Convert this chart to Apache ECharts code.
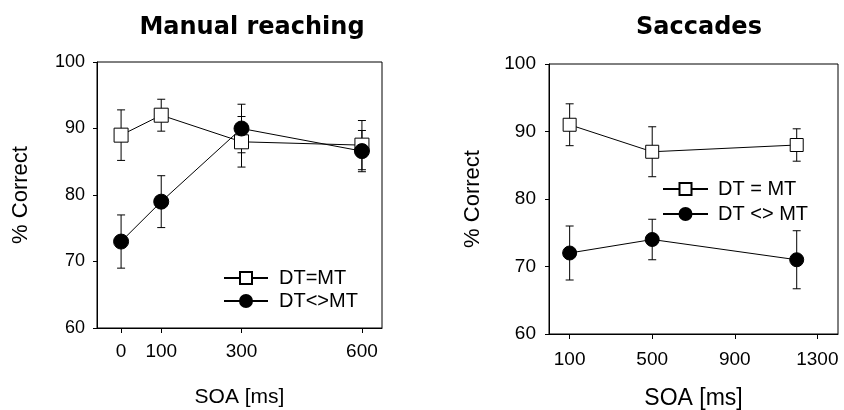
<!DOCTYPE html>
<html>
<head>
<meta charset="utf-8">
<script src="https://cdn.jsdelivr.net/npm/echarts@6/dist/echarts.min.js"></script>
<style>
  html, body { margin: 0; padding: 0; background: #fff; }
  #chart { width: 844px; height: 410px; }
</style>
</head>
<body>
<div id="chart"></div>
<script>
// manual reaching panel
const reachSoa = [0, 100, 300, 600];
const reachSame = [89, 92, 88, 87.5];
const reachSameErr = [3.8, 2.4, 3.8, 3.7];
const reachDiff = [73, 79, 90, 86.6];
const reachDiffErr = [4, 3.9, 3.65, 3.1];
const reachTicks = [0, 100, 300, 600];

// saccades panel
const saccSoa = [100, 500, 1200];
const saccSame = [91, 87, 88];
const saccSameErr = [3.1, 3.7, 2.4];
const saccDiff = [72, 74, 71];
const saccDiffErr = [4, 3, 4.3];
const saccTicks = [100, 500, 900, 1300];

const font = "Liberation Sans, Arial, sans-serif";

// pairs x with y
function pts(xs, ys) {
  return xs.map((x, i) => [x, ys[i]]);
}
function errs(xs, ys, e) {
  return xs.map((x, i) => [x, ys[i] - e[i], ys[i] + e[i]]);
}

// vertical error bar with caps
function errorBar(params, api) {
  const x = api.value(0);
  const lo = api.coord([x, api.value(1)]);
  const hi = api.coord([x, api.value(2)]);
  const w = 4;
  const st = { stroke: "#000", lineWidth: 1 };
  return {
    type: "group",
    children: [
      { type: "line", shape: { x1: lo[0], y1: lo[1], x2: hi[0], y2: hi[1] }, style: st },
      { type: "line", shape: { x1: hi[0] - w, y1: hi[1], x2: hi[0] + w, y2: hi[1] }, style: st },
      { type: "line", shape: { x1: lo[0] - w, y1: lo[1], x2: lo[0] + w, y2: lo[1] }, style: st }
    ]
  };
}

function xAxis(idx, min, max, ticks, gap, margin, nameSize) {
  return {
    type: "value", gridIndex: idx, min: min, max: max,
    name: "SOA [ms]", nameLocation: "middle", nameGap: gap,
    nameTextStyle: { color: "#000", fontSize: nameSize, fontFamily: font },
    axisLine: { onZero: false, lineStyle: { color: "#000", width: 1 } },
    axisTick: { show: true, length: 5, lineStyle: { color: "#000" }, customValues: ticks },
    axisLabel: { color: "#000", fontSize: 19, fontFamily: font, margin: margin,
      customValues: ticks, formatter: (v) => String(v) },
    splitLine: { show: false }
  };
}
function yAxis(idx, margin, size) {
  return {
    type: "value", gridIndex: idx, min: 60, max: 100, interval: 10,
    name: "% Correct", nameLocation: "middle", nameGap: 65,
    nameTextStyle: { color: "#000", fontSize: 22, fontFamily: font },
    axisLine: { onZero: false, lineStyle: { color: "#000", width: 1 } },
    axisTick: { show: true, length: 4, lineStyle: { color: "#000" } },
    axisLabel: { color: "#000", fontSize: size, fontFamily: font, margin: margin },
    splitLine: { show: false }
  };
}

function lineSeries(name, idx, data, symbol, size, fill) {
  return {
    name: name, type: "line", xAxisIndex: idx, yAxisIndex: idx,
    data: data, symbol: symbol, symbolSize: size, z: 5,
    lineStyle: { color: "#000", width: 1 },
    itemStyle: { color: fill, borderColor: "#000", borderWidth: 1 }
  };
}
function barSeries(idx, data) {
  return {
    type: "custom", xAxisIndex: idx, yAxisIndex: idx, z: 2,
    renderItem: errorBar, data: data
  };
}

const titleFont = { color: "#000", fontSize: 24, fontWeight: "bold", fontFamily: "DejaVu Sans" };

const chart = echarts.init(document.getElementById("chart"));
chart.setOption({
  animation: false,
  backgroundColor: "#fff",
  title: [
    { text: "Manual reaching", left: 247, top: 11, textAlign: "center", textStyle: titleFont },
    { text: "Saccades", left: 694, top: 11, textAlign: "center", textStyle: titleFont }
  ],
  grid: [
    { left: 97, top: 62, width: 285, height: 266, show: true, borderColor: "#000", borderWidth: 1,
      outerBoundsMode: "none" },
    { left: 549, top: 64, width: 289, height: 270, show: true, borderColor: "#000", borderWidth: 1,
      outerBoundsMode: "none" }
  ],
  xAxis: [xAxis(0, -60, 650, reachTicks, 59, 14, 21), xAxis(1, 0, 1400, saccTicks, 53, 16, 23)],
  yAxis: [yAxis(0, 12, 18), yAxis(1, 13, 19)],
  legend: [
    { orient: "vertical", left: 218, top: 263, itemWidth: 44, itemHeight: 15, itemGap: 3,
      data: ["DT=MT", "DT<>MT"],
      textStyle: { color: "#000", fontSize: 20, fontFamily: font, padding: [0, 0, 0, 6] } },
    { orient: "vertical", left: 657, top: 174, itemWidth: 45, itemHeight: 15, itemGap: 5,
      data: ["DT = MT", "DT <> MT"],
      textStyle: { color: "#000", fontSize: 20, fontFamily: font, padding: [0, 0, 0, 5] } }
  ],
  series: [
    barSeries(0, errs(reachSoa, reachSame, reachSameErr)),
    barSeries(0, errs(reachSoa, reachDiff, reachDiffErr)),
    lineSeries("DT=MT", 0, pts(reachSoa, reachSame), "rect", 14, "#fff"),
    lineSeries("DT<>MT", 0, pts(reachSoa, reachDiff), "circle", 15, "#000"),
    barSeries(1, errs(saccSoa, saccSame, saccSameErr)),
    barSeries(1, errs(saccSoa, saccDiff, saccDiffErr)),
    lineSeries("DT = MT", 1, pts(saccSoa, saccSame), "rect", 13, "#fff"),
    lineSeries("DT <> MT", 1, pts(saccSoa, saccDiff), "circle", 14, "#000")
  ]
});
</script>
</body>
</html>
